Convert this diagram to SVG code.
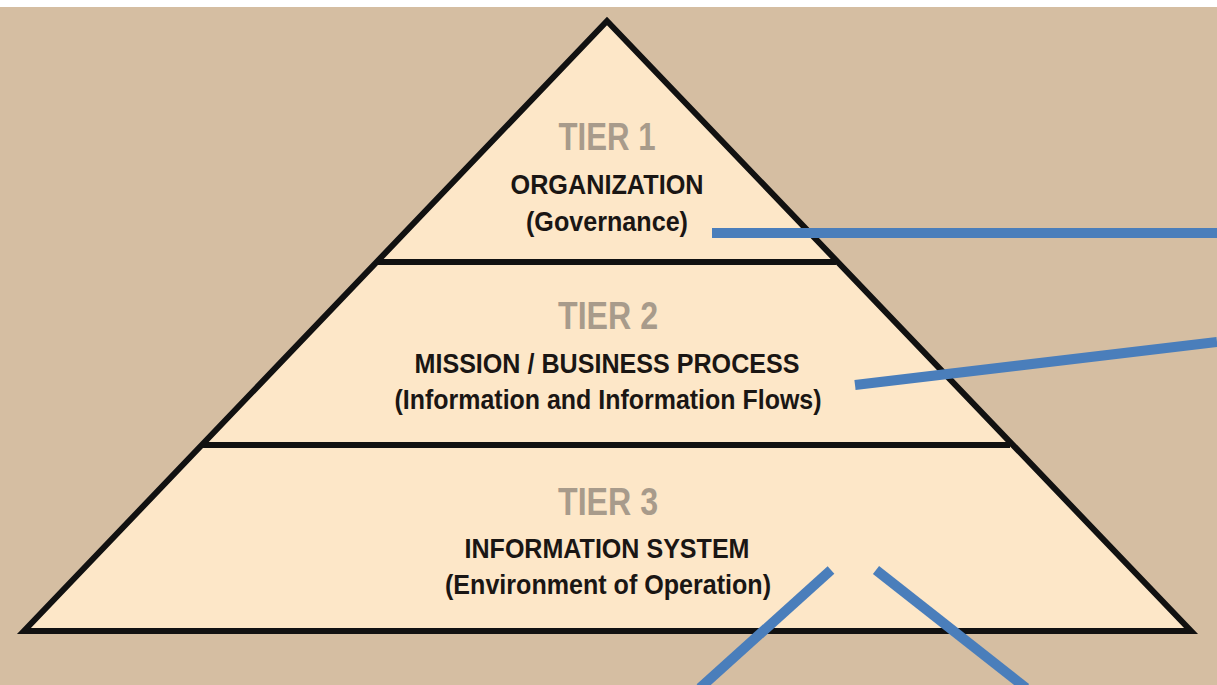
<svg xmlns="http://www.w3.org/2000/svg" width="1217" height="685" viewBox="0 0 1217 685">
<style>
.tier{font-family:"Liberation Sans",Arial,sans-serif;font-weight:bold;fill:#A89B8B;text-anchor:middle}
.title{font-family:"Liberation Sans",Arial,sans-serif;font-weight:bold;fill:#1A1614;text-anchor:middle}
.sub{font-family:"Liberation Sans",Arial,sans-serif;font-weight:bold;fill:#1A1614;text-anchor:middle}
.div{stroke:#111;stroke-width:6}
.conn{stroke:#4A7EBB;stroke-width:10;fill:none}
</style>
<rect x="0" y="0" width="1217" height="685" fill="#FFFFFF"/>
<rect x="0" y="7" width="1217" height="678" fill="#D5BEA2"/>
<g id="pyramid">
<polygon points="607,21 24,631 1191,631" fill="#FDE7C8" stroke="#111" stroke-width="6" stroke-linejoin="miter"/>
<line class="div" x1="378" y1="262" x2="836" y2="262"/>
<line class="div" x1="203" y1="445" x2="1010" y2="445"/>
</g>
<g id="tier1">
<text class="tier" x="607" y="150" font-size="38" textLength="97" lengthAdjust="spacingAndGlyphs">TIER 1</text>
<text class="title" x="607" y="194" font-size="27" textLength="193" lengthAdjust="spacingAndGlyphs">ORGANIZATION</text>
<text class="sub" x="607" y="231" font-size="27" textLength="162" lengthAdjust="spacingAndGlyphs">(Governance)</text>
</g>
<g id="tier2">
<text class="tier" x="608" y="329" font-size="38" textLength="100" lengthAdjust="spacingAndGlyphs">TIER 2</text>
<text class="title" x="607" y="373" font-size="27" textLength="385" lengthAdjust="spacingAndGlyphs">MISSION / BUSINESS PROCESS</text>
<text class="sub" x="608" y="409" font-size="27" textLength="427" lengthAdjust="spacingAndGlyphs">(Information and Information Flows)</text>
</g>
<g id="tier3">
<text class="tier" x="608" y="515" font-size="38" textLength="100" lengthAdjust="spacingAndGlyphs">TIER 3</text>
<text class="title" x="607" y="558" font-size="27" textLength="285" lengthAdjust="spacingAndGlyphs">INFORMATION SYSTEM</text>
<text class="sub" x="608" y="594" font-size="27" textLength="326" lengthAdjust="spacingAndGlyphs">(Environment of Operation)</text>
</g>
<g id="connectors">
<line class="conn" x1="712" y1="233" x2="1217" y2="233"/>
<line class="conn" x1="855" y1="385" x2="1217" y2="342"/>
<line class="conn" x1="831" y1="570" x2="700" y2="688"/>
<line class="conn" x1="876" y1="570" x2="1026" y2="688"/>
</g>
</svg>
